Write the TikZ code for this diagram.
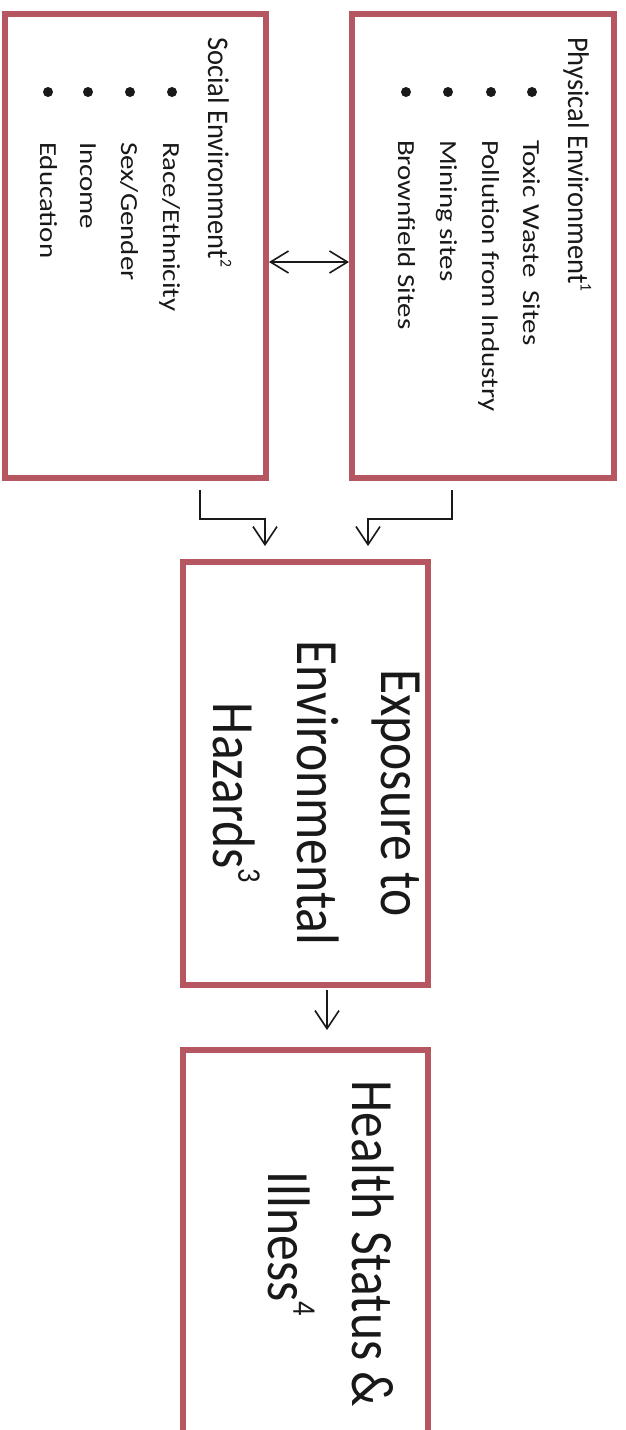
\documentclass[tikz,border=0pt]{standalone}
\usepackage{graphicx}
\usepackage{fontspec}
\setmainfont{Carlito}
\usetikzlibrary{arrows.meta}
\definecolor{boxred}{RGB}{181,86,96}
\definecolor{ink}{RGB}{25,25,25}
\newcommand\stretchit[1]{\scalebox{1.18}[1]{#1}}
\newcommand\headit[1]{\scalebox{0.95}[1]{#1}}
\newcommand\supit[1]{\raisebox{0.42em}{\fontsize{0.55em}{0.6em}\selectfont #1}}
\begin{document}
\begin{tikzpicture}[x=1pt,y=-1pt,
  box/.style={draw=boxred, line width=6pt, rectangle, fill=white, inner sep=0pt},
  arr/.style={draw=ink, line width=1.6pt, -{Straight Barb[length=18pt,width=24pt]}},
  darr/.style={draw=ink, line width=1.6pt, {Straight Barb[length=18pt,width=22pt]}-{Straight Barb[length=18pt,width=22pt]}},
  dot/.style={circle, fill=ink, inner sep=0pt, minimum size=10pt},
  head/.style={rotate=-90, anchor=base west, inner sep=0pt, text=ink, font=\fontsize{30}{36}\selectfont},
  item/.style={rotate=-90, anchor=base west, inner sep=0pt, text=ink, font=\fontsize{24.5}{29}\selectfont},
  big/.style={rotate=-90, inner sep=0pt, text=ink, font=\fontsize{60}{84}\selectfont}]
\useasboundingbox (0,0) rectangle (626,1430);
\fill[white] (0,0) rectangle (626,1430);
\clip (0,0) rectangle (626,1430);

% boxes
\node[box, minimum width=261pt, minimum height=464pt] (social) at (135.5,246) {};
\node[box, minimum width=262pt, minimum height=464pt] (phys) at (483,246) {};
\node[box, minimum width=245pt, minimum height=423pt] (expo) at (305.5,773.5) {};
\node[box, minimum width=245pt, minimum height=410pt] (health) at (305.5,1255) {};

% physical environment text
\node[head] (ptitle) at (568,37) {\headit{Physical Environment\supit{1}}};
\node[dot] (pd1) at (532,92) {};
\node[dot] (pd2) at (491,92) {};
\node[dot] (pd3) at (448,92) {};
\node[dot] (pd4) at (406,92) {};
\node[item] (pi1) at (523,140) {\stretchit{Toxic Waste\ \ Sites}};
\node[item] (pi2) at (482,140) {\stretchit{Pollution from Industry}};
\node[item] (pi3) at (440,140) {\stretchit{Mining sites}};
\node[item] (pi4) at (398,140) {\stretchit{Brownfield Sites}};

% social environment text
\node[head] (stitle) at (208,37) {\headit{Social Environment\supit{2}}};
\node[dot] (sd1) at (172,92) {};
\node[dot] (sd2) at (130,92) {};
\node[dot] (sd3) at (88,92) {};
\node[dot] (sd4) at (48,92) {};
\node[item] (si1) at (163,142) {\stretchit{Race/Ethnicity}};
\node[item] (si2) at (121,142) {\stretchit{Sex/Gender}};
\node[item] (si3) at (80,142) {\stretchit{Income}};
\node[item] (si4) at (40,142) {\stretchit{Education}};

% big texts
\node[big] (etext) at (314,793) {\scalebox{0.86}[1]{\begin{tabular}{@{}c@{}}Exposure to\\Environmental\\Hazards\supit{3}\end{tabular}}};
\node[big] (htext) at (327,1244) {\scalebox{0.86}[1]{\begin{tabular}{@{}c@{}}Health Status \&\\Illness\supit{4}\end{tabular}}};

% connectors
\draw[darr] (social.east |- 0,262) -- (phys.west |- 0,262);
\coordinate (pa) at (452,490);
\coordinate (pb) at (368,519);
\draw[arr, shorten >=13pt] (pa) |- (pb) -- (pb |- expo.north);
\coordinate (sa) at (200,490);
\coordinate (sb) at (265,519);
\draw[arr, shorten >=13pt] (sa) |- (sb) -- (sb |- expo.north);
\coordinate (ea) at (327,990);
\draw[arr, shorten >=17pt] (ea) -- (ea |- health.north);
\end{tikzpicture}
\end{document}
